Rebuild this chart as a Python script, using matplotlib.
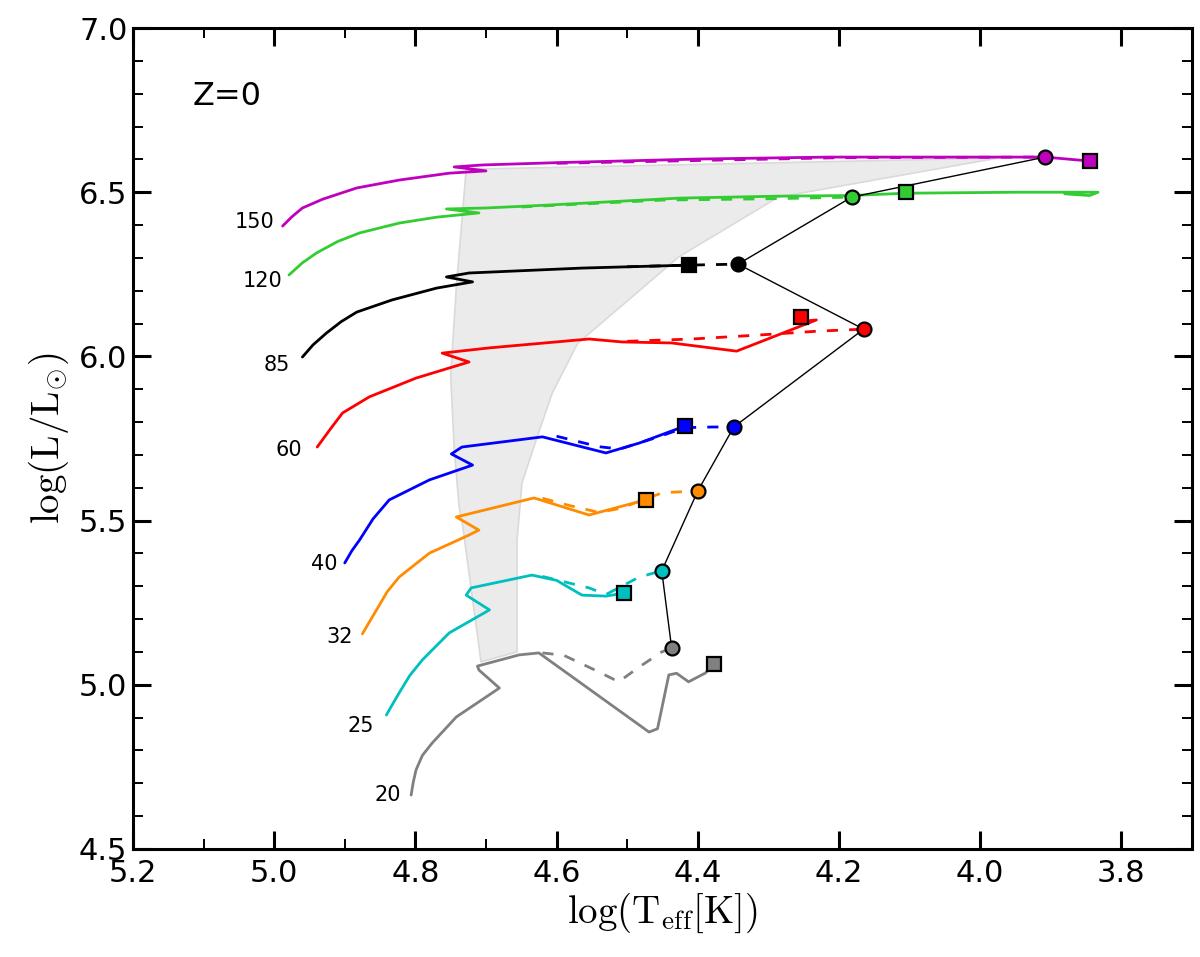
import matplotlib
matplotlib.use("Agg")
import matplotlib.pyplot as plt
from matplotlib.ticker import FixedLocator, MultipleLocator, FormatStrFormatter

plt.rcParams['mathtext.fontset'] = 'cm'

# ---------------- data ----------------
masses = ["150", "120", "85", "60", "40", "32", "25", "20"]
colors = ["#bf00bf", "#33cc33", "black", "red", "blue", "darkorange", "#00bfbf", "grey"]

solid_T = {
    "150": [4.988, 4.975, 4.960, 4.931, 4.883, 4.823, 4.752, 4.700, 4.745, 4.705, 4.60, 4.40, 4.215, 4.003, 3.908, 3.845],
    "120": [4.979, 4.960, 4.940, 4.910, 4.879, 4.823, 4.770, 4.710, 4.756, 4.700, 4.611, 4.427, 4.286, 4.182, 4.105, 3.95, 3.833, 3.845, 3.88],
    "85": [4.960, 4.945, 4.926, 4.905, 4.883, 4.833, 4.770, 4.719, 4.756, 4.724, 4.564, 4.413],
    "60": [4.939, 4.920, 4.903, 4.865, 4.799, 4.724, 4.762, 4.695, 4.554, 4.507, 4.437, 4.345, 4.232, 4.262],
    "40": [4.900, 4.890, 4.879, 4.860, 4.837, 4.780, 4.719, 4.749, 4.734, 4.620, 4.530, 4.483, 4.418],
    "32": [4.875, 4.865, 4.855, 4.840, 4.823, 4.780, 4.724, 4.710, 4.742, 4.632, 4.554, 4.474],
    "25": [4.841, 4.832, 4.823, 4.808, 4.790, 4.752, 4.695, 4.728, 4.721, 4.635, 4.600, 4.564, 4.530, 4.505],
    "20": [4.806, 4.803, 4.799, 4.790, 4.776, 4.742, 4.681, 4.710, 4.712, 4.653, 4.625, 4.469, 4.457, 4.441, 4.430, 4.413, 4.389, 4.377],
}
solid_L = {
    "150": [6.397, 6.425, 6.452, 6.479, 6.513, 6.537, 6.558, 6.565, 6.577, 6.583, 6.590, 6.601, 6.607, 6.607, 6.607, 6.595],
    "120": [6.248, 6.285, 6.315, 6.350, 6.376, 6.406, 6.424, 6.437, 6.449, 6.452, 6.461, 6.482, 6.488, 6.490, 6.497, 6.500, 6.500, 6.490, 6.495],
    "85": [5.998, 6.035, 6.071, 6.106, 6.135, 6.172, 6.208, 6.227, 6.242, 6.254, 6.269, 6.278],
    "60": [5.724, 5.780, 5.828, 5.877, 5.934, 5.983, 6.010, 6.026, 6.053, 6.044, 6.041, 6.016, 6.111, 6.105],
    "40": [5.371, 5.408, 5.441, 5.505, 5.563, 5.624, 5.669, 5.703, 5.724, 5.755, 5.706, 5.736, 5.788],
    "32": [5.155, 5.192, 5.228, 5.283, 5.328, 5.401, 5.456, 5.471, 5.511, 5.569, 5.517, 5.563],
    "25": [4.908, 4.942, 4.975, 5.028, 5.076, 5.158, 5.228, 5.273, 5.295, 5.334, 5.318, 5.273, 5.270, 5.279],
    "20": [4.664, 4.703, 4.741, 4.785, 4.823, 4.902, 4.990, 5.045, 5.057, 5.091, 5.097, 4.856, 4.866, 5.030, 5.035, 5.009, 5.036, 5.063],
}
dashed_T = {
    "150": [4.60, 4.20, 3.908],
    "120": [4.65, 4.45, 4.30, 4.182],
    "85": [4.50, 4.413, 4.343],
    "60": [4.50, 4.408, 4.314, 4.229, 4.165],
    "40": [4.60, 4.54, 4.51, 4.46, 4.418, 4.38, 4.349],
    "32": [4.62, 4.58, 4.54, 4.51, 4.45, 4.400],
    "25": [4.62, 4.554, 4.53, 4.483, 4.451],
    "20": [4.62, 4.59, 4.540, 4.512, 4.483, 4.451, 4.437],
}
dashed_L = {
    "150": [6.588, 6.605, 6.607],
    "120": [6.455, 6.476, 6.480, 6.485],
    "85": [6.273, 6.278, 6.281],
    "60": [6.046, 6.053, 6.065, 6.077, 6.083],
    "40": [5.757, 5.725, 5.718, 5.752, 5.783, 5.785, 5.785],
    "32": [5.568, 5.545, 5.525, 5.537, 5.585, 5.590],
    "25": [5.330, 5.295, 5.275, 5.328, 5.347],
    "20": [5.097, 5.090, 5.039, 5.009, 5.054, 5.100, 5.112],
}
# end points: circles (dashed models), squares (solid models)
circle_T = [3.908, 4.182, 4.343, 4.165, 4.349, 4.400, 4.451, 4.437]
circle_L = [6.607, 6.485, 6.281, 6.083, 5.785, 5.590, 5.347, 5.112]
square_T = [3.845, 4.105, 4.413, 4.254, 4.418, 4.474, 4.505, 4.377]
square_L = [6.595, 6.501, 6.278, 6.120, 5.788, 5.563, 5.279, 5.063]

# grey band boundaries
band_left_T = [4.728, 4.742, 4.750, 4.745, 4.738, 4.734, 4.707]
band_left_L = [6.570, 6.210, 5.940, 5.720, 5.540, 5.500, 5.070]
band_right_T = [3.975, 4.286, 4.427, 4.498, 4.570, 4.606, 4.629, 4.649, 4.656, 4.656]
band_right_L = [6.604, 6.485, 6.303, 6.172, 6.040, 5.889, 5.745, 5.614, 5.440, 5.100]

label_offsets = [(-6, 3), (-5, -4), (-9, -6), (-11, -2), (-5, -1), (-7, -2), (-9, -8), (-7, 0)]

# ---------------- figure ----------------
fig = plt.figure(figsize=(12, 9.57), dpi=100)
ax = fig.add_axes([0.1108, 0.1129, 0.8825, 0.8578])

poly_T = band_left_T + band_right_T[::-1]
poly_L = band_left_L + band_right_L[::-1]
ax.fill(poly_T, poly_L, facecolor="#ebebeb", edgecolor="#dadada", lw=1.2, zorder=1)

for m, c, off in zip(masses, colors, label_offsets):
    ax.plot(solid_T[m], solid_L[m], color=c, lw=2.0, zorder=3,
            solid_joinstyle='round', solid_capstyle='round')
    ax.plot(dashed_T[m], dashed_L[m], color=c, lw=2.0, ls=(0, (4, 4)), zorder=3)
    ax.annotate(m, (solid_T[m][0], solid_L[m][0]), xytext=off, textcoords='offset points',
                ha='right', va='center', fontsize=15, zorder=5)

ax.plot(circle_T, circle_L, color='black', lw=1.0, zorder=4)
for i, c in enumerate(colors):
    ax.plot(circle_T[i], circle_L[i], marker='o', ms=10, mfc=c, mec='black', mew=1.6, ls='none', zorder=6)
    ax.plot(square_T[i], square_L[i], marker='s', ms=10, mfc=c, mec='black', mew=1.6, ls='none', zorder=6)

ax.text(5.066, 6.79, "Z=0", fontsize=23, ha='center', va='center')

ax.set_xlim(5.2, 3.7)
ax.set_ylim(4.5, 7.0)
ax.xaxis.set_major_locator(FixedLocator([5.2, 5.0, 4.8, 4.6, 4.4, 4.2, 4.0, 3.8]))
ax.xaxis.set_minor_locator(FixedLocator([5.1, 4.9, 4.7, 4.5]))
ax.yaxis.set_major_locator(MultipleLocator(0.5))
ax.yaxis.set_minor_locator(MultipleLocator(0.1))
ax.xaxis.set_major_formatter(FormatStrFormatter('%.1f'))
ax.yaxis.set_major_formatter(FormatStrFormatter('%.1f'))
ax.tick_params(which='both', direction='in', top=True, right=True, labelsize=22)
ax.tick_params(which='major', length=13, width=2.2)
ax.tick_params(which='minor', length=7, width=1.4)
ax.tick_params(axis='x', which='major', pad=7)
ax.tick_params(axis='y', which='major', pad=4)
for s in ax.spines.values():
    s.set_linewidth(2.2)

ax.set_xlabel(r'$\mathrm{log(T_{eff}[K])}$', fontsize=28, labelpad=2)
ax.set_ylabel(r'$\mathrm{log(L/L_{\odot})}$', fontsize=28, labelpad=6)

fig.savefig("out.png", dpi=100)
